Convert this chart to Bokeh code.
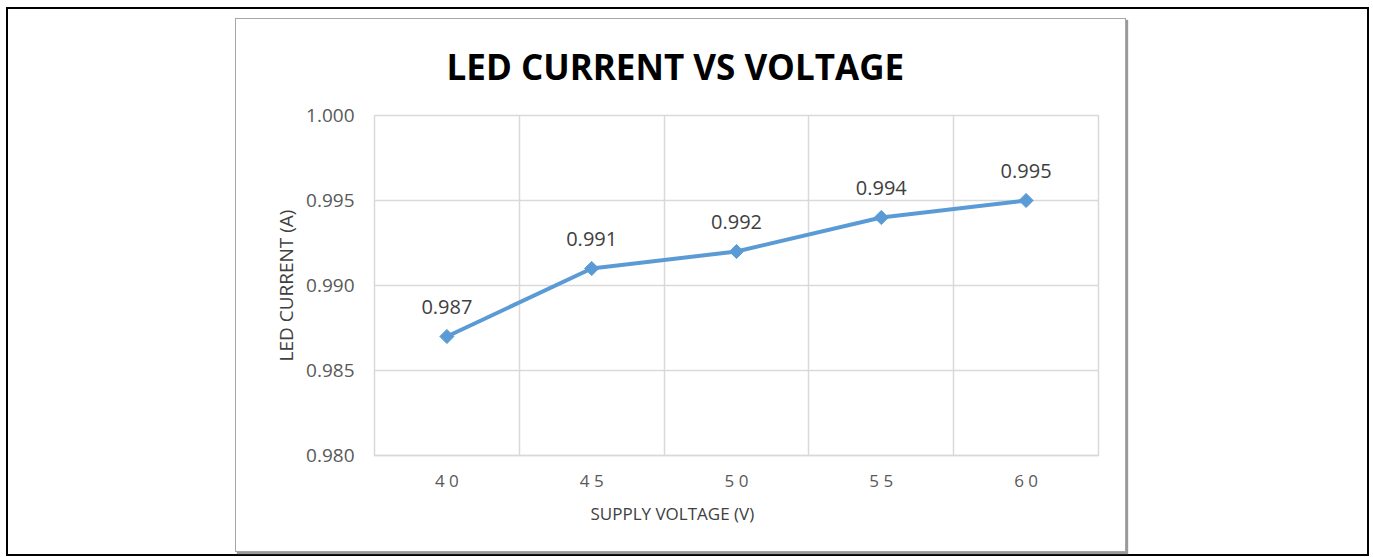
from bokeh.plotting import figure
from bokeh.models import (FactorRange, Range1d, FixedTicker, LabelSet, Title,
                          ColumnDataSource, NumeralTickFormatter, Spacer)
from bokeh.layouts import column, row
from bokeh.core.properties import value
from bokeh.embed import file_html
from bokeh.resources import INLINE
import numpy as np

# ---- data ----
voltage_labels = ["4 0", "4 5", "5 0", "5 5", "6 0"]
led_current = [0.987, 0.991, 0.992, 0.994, 0.995]
y_ticks = [0.980, 0.985, 0.990, 0.995, 1.000]
title_text = "LED CURRENT VS VOLTAGE"
x_title = "SUPPLY VOLTAGE (V)"
y_title = "LED CURRENT (A)"

FONT = "Open Sans"
GRID = "#d9d9d9"
BLUE = "#5b9bd5"

src = ColumnDataSource(dict(
    x=voltage_labels,
    y=led_current,
    lbl=["%.3f" % v for v in led_current],
))

p = figure(
    width=891, height=534,
    x_range=FactorRange(factors=voltage_labels, range_padding=0),
    y_range=Range1d(y_ticks[0], y_ticks[-1]),
    output_backend="svg", toolbar_location=None,
    min_border_left=138, min_border_right=29,
    min_border_top=96, min_border_bottom=98,
)
p.styles = {"border": "1px solid #a6a6a6", "box-shadow": "2px 2px 1px #9a9a9a"}
p.outline_line_color = GRID
p.outline_line_width = 1.5

# grids
p.ygrid.ticker = FixedTicker(ticks=y_ticks)
p.ygrid.grid_line_color = GRID
p.ygrid.grid_line_width = 1.5
p.xgrid.ticker = FixedTicker(ticks=list(range(len(voltage_labels) + 1)))
p.xgrid.grid_line_color = GRID
p.xgrid.grid_line_width = 1.5

# y axis
p.yaxis.ticker = FixedTicker(ticks=y_ticks)
p.yaxis.formatter = NumeralTickFormatter(format="0.000")
p.yaxis.axis_line_color = None
p.yaxis.major_tick_line_color = None
p.yaxis.major_tick_out = 0
p.yaxis.minor_tick_line_color = None
p.yaxis.minor_tick_out = 0
p.yaxis.major_label_standoff = 20
p.yaxis.major_label_text_font = FONT
p.yaxis.major_label_text_font_size = "19px"
p.yaxis.major_label_text_color = "#595959"
p.yaxis.axis_label = y_title
p.yaxis.axis_label_text_font = FONT
p.yaxis.axis_label_text_font_size = "19px"
p.yaxis.axis_label_text_font_style = "normal"
p.yaxis.axis_label_text_color = "#404040"
p.yaxis.axis_label_standoff = 4

# x axis
p.xaxis.axis_line_color = GRID
p.xaxis.axis_line_width = 1.5
p.xaxis.major_tick_line_color = None
p.xaxis.major_tick_out = 0
p.xaxis.minor_tick_line_color = None
p.xaxis.major_label_standoff = 13
p.xaxis.major_label_text_font = FONT
p.xaxis.major_label_text_font_size = "17px"
p.xaxis.major_label_text_color = "#595959"

# series
p.line("x", "y", source=src, line_color=BLUE, line_width=4)
p.scatter("x", "y", source=src, marker="square", angle=np.pi / 4, size=10,
          fill_color=BLUE, line_color=BLUE)
p.add_layout(LabelSet(x="x", y="y", text="lbl", source=src, y_offset=30,
                      text_align="center", text_baseline="middle",
                      text_font=value(FONT), text_font_size=value("20px"),
                      text_color="#404040"))

# titles (offset from the frame's left edge)
p.title = Title(text=title_text, align="left", offset=72, standoff=47,
                vertical_align="top",
                text_font=FONT, text_font_style="bold", text_font_size="35px",
                text_color="#000000")
p.add_layout(Title(text=x_title, align="left", offset=216, standoff=10,
                   text_font=FONT, text_font_style="normal", text_font_size="17px",
                   text_color="#404040"), "below")

inner = row(Spacer(width=227, height=536), p, Spacer(width=239, height=536))
box = column(Spacer(width=1359, height=9), inner,
             styles={"border": "2px solid #000000", "background": "#ffffff"})
page = column(Spacer(width=1369, height=7),
              row(Spacer(width=6, height=549), box))

open("out.html", "w").write(file_html(page, INLINE))
